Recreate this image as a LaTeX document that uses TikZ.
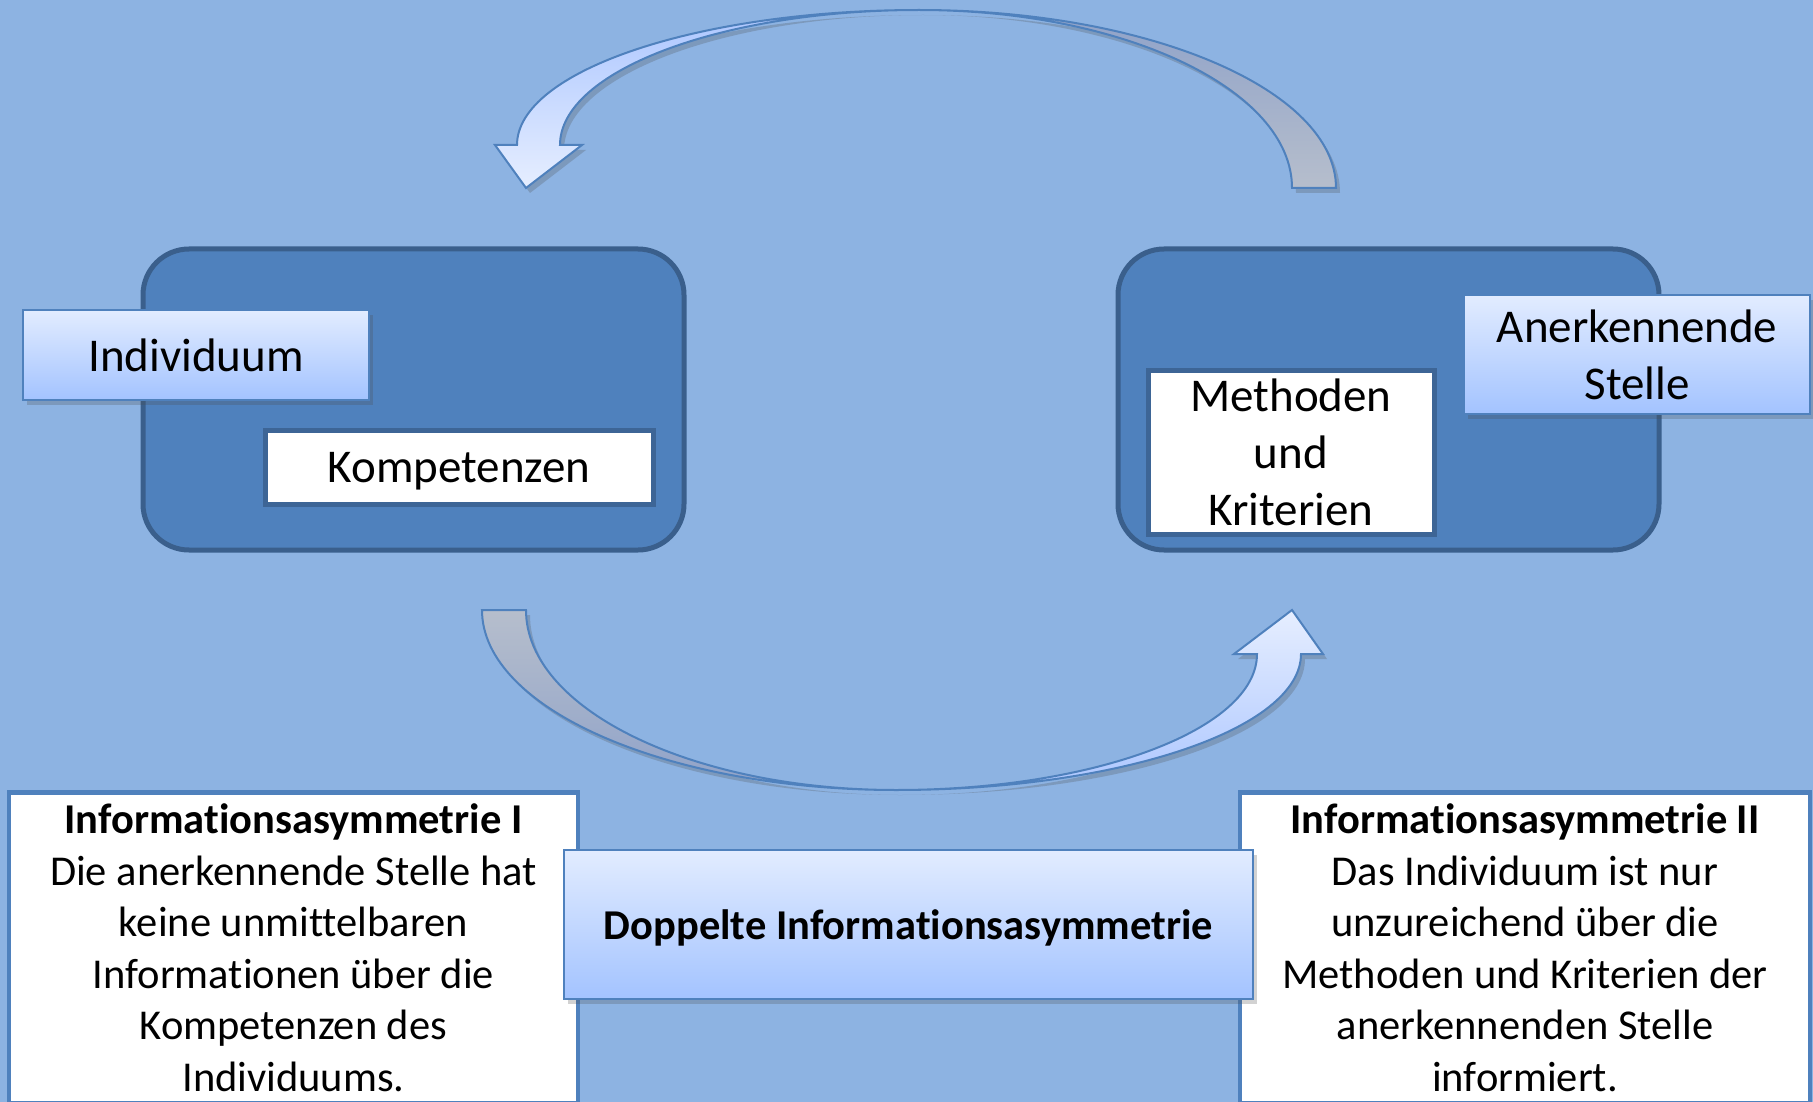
\documentclass[tikz,border=0pt]{standalone}
\usepackage{fontspec}
\setmainfont{Carlito}[Ligatures=NoCommon]
\usetikzlibrary{shadows}
\definecolor{bg}{HTML}{8DB3E2}
\definecolor{accent}{HTML}{4F81BD}
\definecolor{dkborder}{HTML}{3A5F8C}
\definecolor{wborder}{HTML}{3D6596}
\definecolor{gtop}{HTML}{E2ECFF}
\definecolor{gbot}{HTML}{A3C3FF}
\definecolor{tailtop}{HTML}{8FA2C9}
\definecolor{tailbot}{HTML}{B6BECC}
\definecolor{headtop}{HTML}{ACC6FF}
\definecolor{headbot}{HTML}{E6EEFF}
\begin{document}
\begin{tikzpicture}[x=1pt,y=-1pt,
  shadowed/.style={drop shadow={shadow xshift=4pt,shadow yshift=-5pt,opacity=.25,fill=black!70}},
  bigbox/.style={draw=dkborder,line width=5pt,fill=accent,rounded corners=46pt,inner sep=0pt,minimum width=541pt,minimum height=301pt},
  gradbox/.style={draw=accent,line width=2.5pt,top color=gtop,bottom color=gbot,inner sep=0pt,align=center,font=\fontsize{47}{57}\selectfont,shadowed},
  whitebox/.style={draw=wborder,line width=5pt,fill=white,inner sep=0pt,align=center,font=\fontsize{47}{57}\selectfont},
  infobox/.style={draw=accent,line width=4.5pt,fill=white,inner sep=0pt,align=center,font=\fontsize{42.5}{51.5}\selectfont,minimum height=311pt,anchor=north},
  arrowline/.style={draw=accent,line width=2pt,shadowed}]
\useasboundingbox (0,0) rectangle (1813,1102);
\fill[bg] (0,0) rectangle (1813,1102);

% top arrow: tail half then head half
\coordinate (ttop) at (919,10);
\draw[arrowline,top color=tailtop,bottom color=tailbot]
  (ttop) .. controls (1149,10) and (1336,90) .. (1336,188) -- (1292,188)
  .. controls (1292,90) and (1125,10) .. (ttop) -- cycle;
\draw[arrowline,top color=headtop,bottom color=headbot]
  (ttop) .. controls (698,10) and (517,71) .. (517,145) -- (495,145) -- (526,188)
  -- (582,145) -- (560,145) .. controls (560,71) and (722,10) .. (ttop) -- cycle;

% bottom arrow
\coordinate (bbot) at (896,790);
\draw[arrowline,top color=tailbot,bottom color=tailtop]
  (482,610) .. controls (482,709) and (668,790) .. (bbot)
  .. controls (692,790) and (526,709) .. (526,610) -- cycle;
\draw[arrowline,top color=headbot,bottom color=headtop]
  (bbot) .. controls (1119,790) and (1301,729) .. (1301,654) -- (1323,654) -- (1292,610)
  -- (1234,654) -- (1257,654) .. controls (1257,729) and (1095,790) .. (bbot) -- cycle;

% left group
\node[bigbox] (indbox) at (413.5,399.5) {};
\node[gradbox,minimum width=346pt,minimum height=90pt] (ind) at (196,355) {Individuum};
\node[whitebox,minimum width=388pt,minimum height=74pt,text depth=0pt] (komp) at (459,467) {Kompetenzen};

% right group
\node[bigbox] (stbox) at (1388.5,399.5) {};
\node[whitebox,minimum width=286pt,minimum height=164pt] (meth) at (1291,452) {Methoden\\und\\Kriterien};
\node[gradbox,minimum width=346pt,minimum height=119pt] (stelle) at (1637,354.5) {Anerkennende\\Stelle};

% bottom boxes
\node[infobox,minimum width=569pt] (info1) at (293.5,790)
  {\textbf{Informationsasymmetrie I}\\Die anerkennende Stelle hat\\keine unmittelbaren\\Informationen über die\\Kompetenzen des\\Individuums.};
\node[infobox,minimum width=570pt] (info2) at (1525,790)
  {\textbf{Informationsasymmetrie II}\\Das Individuum ist nur\\unzureichend über die\\Methoden und Kriterien der\\anerkennenden Stelle\\informiert.};
\node[gradbox,minimum width=689pt,minimum height=149pt,text depth=0pt,font=\fontsize{42.5}{51.5}\selectfont\bfseries] (dopp) at (908.5,924.5) {Doppelte Informationsasymmetrie};
\end{tikzpicture}
\end{document}
